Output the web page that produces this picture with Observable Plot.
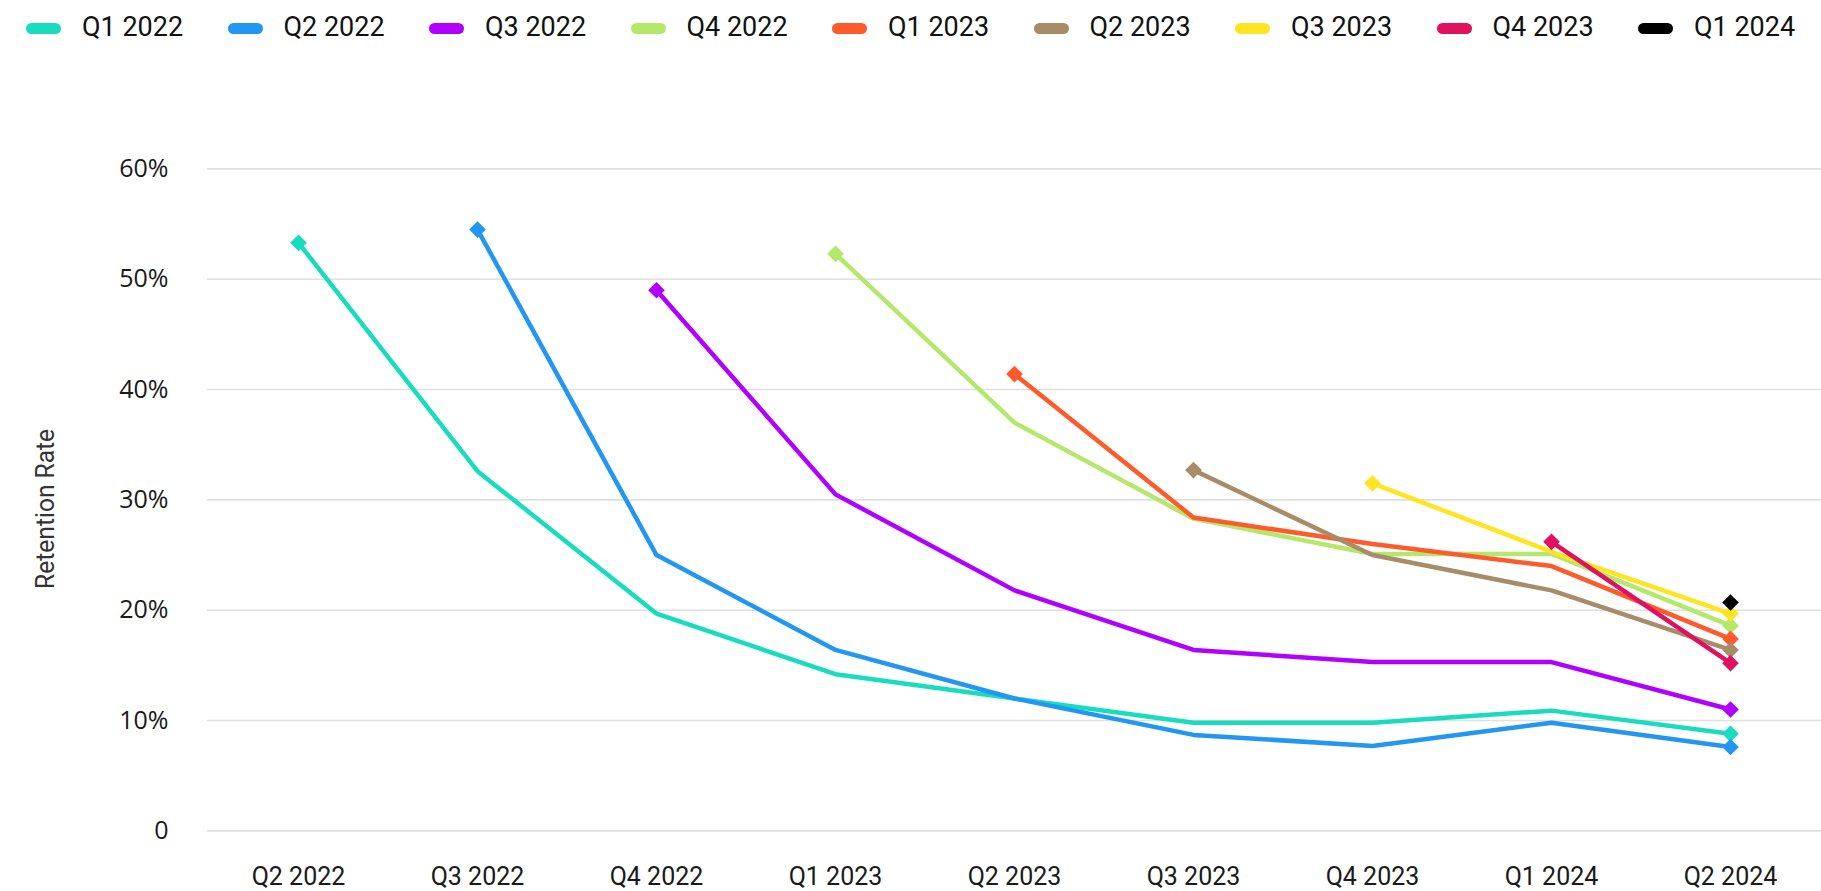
<!DOCTYPE html>
<html>
<head>
<meta charset="utf-8">
<script src="https://cdn.jsdelivr.net/npm/d3@7"></script>
<script src="https://cdn.jsdelivr.net/npm/@observablehq/plot@0.6"></script>
<style>
  html, body { margin: 0; padding: 0; background: #fff; }
  #legend { position: relative; width: 1821px; height: 54px; font-family: Roboto, sans-serif; }
  .item { position: absolute; top: 0; height: 54px; display: flex; align-items: center; }
  .sw { width: 35px; height: 11px; border-radius: 6px; margin-right: 21px; margin-top: 2px; }
  .lab { font-size: 27px; color: #111; line-height: 1; }
  #chart svg { display: block; overflow: visible; }
</style>
</head>
<body>
<div id="legend"></div>
<div id="chart"></div>
<script>
// Quarters on the x axis
const quarters = ["Q2 2022", "Q3 2022", "Q4 2022", "Q1 2023", "Q2 2023", "Q3 2023", "Q4 2023", "Q1 2024", "Q2 2024"];
// Cohorts (series)
const cohorts = ["Q1 2022", "Q2 2022", "Q3 2022", "Q4 2022", "Q1 2023", "Q2 2023", "Q3 2023", "Q4 2023", "Q1 2024"];
const colors = ["#17dcbf", "#2196f3", "#b000ff", "#b3e86a", "#ff5a2c", "#a88c68", "#ffe421", "#e0115f", "#000000"];

// Retention rate (%) per cohort, aligned with quarters (null = not yet started)
const q1_2022 = [53.3, 32.6, 19.7, 14.2, 12.0, 9.8, 9.8, 10.9, 8.8];
const q2_2022 = [null, 54.5, 25.0, 16.4, 12.0, 8.7, 7.7, 9.8, 7.6];
const q3_2022 = [null, null, 49.0, 30.5, 21.8, 16.4, 15.3, 15.3, 11.0];
const q4_2022 = [null, null, null, 52.3, 37.0, 28.3, 25.1, 25.1, 18.6];
const q1_2023 = [null, null, null, null, 41.4, 28.4, 26.0, 24.0, 17.4];
const q2_2023 = [null, null, null, null, null, 32.7, 25.0, 21.8, 16.4];
const q3_2023 = [null, null, null, null, null, null, 31.5, 25.3, 19.7];
const q4_2023 = [null, null, null, null, null, null, null, 26.2, 15.2];
const q1_2024 = [null, null, null, null, null, null, null, null, 20.7];

const yTicks = [0, 10, 20, 30, 40, 50, 60];

const seriesValues = [q1_2022, q2_2022, q3_2022, q4_2022, q1_2023, q2_2023, q3_2023, q4_2023, q1_2024];

const rows = [];
const ends = [];
seriesValues.forEach((vals, i) => {
  const pts = [];
  vals.forEach((v, j) => {
    if (v != null) pts.push({cohort: cohorts[i], quarter: quarters[j], value: v});
  });
  rows.push(...pts);
  ends.push(pts[0]);
  if (pts.length > 1) ends.push(pts[pts.length - 1]);
});

// Legend
const legend = document.getElementById("legend");
cohorts.forEach((c, i) => {
  const it = document.createElement("div");
  it.className = "item";
  it.style.left = (26 + i * 201.5) + "px";
  it.innerHTML = `<div class="sw" style="background:${colors[i]}"></div><div class="lab">${c}</div>`;
  legend.appendChild(it);
});

const chart = Plot.plot({
  width: 1821,
  height: 837,
  marginLeft: 207,
  marginRight: 0,
  marginTop: 114.4,
  marginBottom: 60.6,
  style: {fontFamily: "Roboto, sans-serif", background: "#fff"},
  x: {type: "point", domain: quarters, padding: 0.5},
  y: {domain: [0, 60]},
  color: {domain: cohorts, range: colors},
  marks: [
    Plot.gridY(yTicks, {stroke: "#e0e0e0", strokeOpacity: 1, strokeWidth: 1.6}),
    Plot.axisY(yTicks, {tickSize: 0, tickPadding: 39, fontSize: 25, fontFamily: "Open Sans", fill: "#1a1a1a",
      tickFormat: d => d === 0 ? "0" : d + "%", label: null}),
    Plot.axisX({tickSize: 0, tickPadding: 36, fontSize: 25, fill: "#1a1a1a", label: null}),
    Plot.line(rows, {x: "quarter", y: "value", z: "cohort", stroke: "cohort", strokeWidth: 4.5, strokeLinejoin: "round", strokeLinecap: "round"}),
    Plot.dot(ends, {x: "quarter", y: "value", fill: "cohort", symbol: "diamond2", r: 7.5}),
    Plot.text(["Retention Rate"], {text: d => d, frameAnchor: "left", textAnchor: "middle", dx: -162, dy: 9, rotate: -90, fontSize: 25, fill: "#333", className: "ytitle"})
  ]
});
document.getElementById("chart").appendChild(chart);
d3.select(chart).selectAll(".ytitle text").attr("textLength", 160).attr("lengthAdjust", "spacingAndGlyphs");
</script>
</body>
</html>
